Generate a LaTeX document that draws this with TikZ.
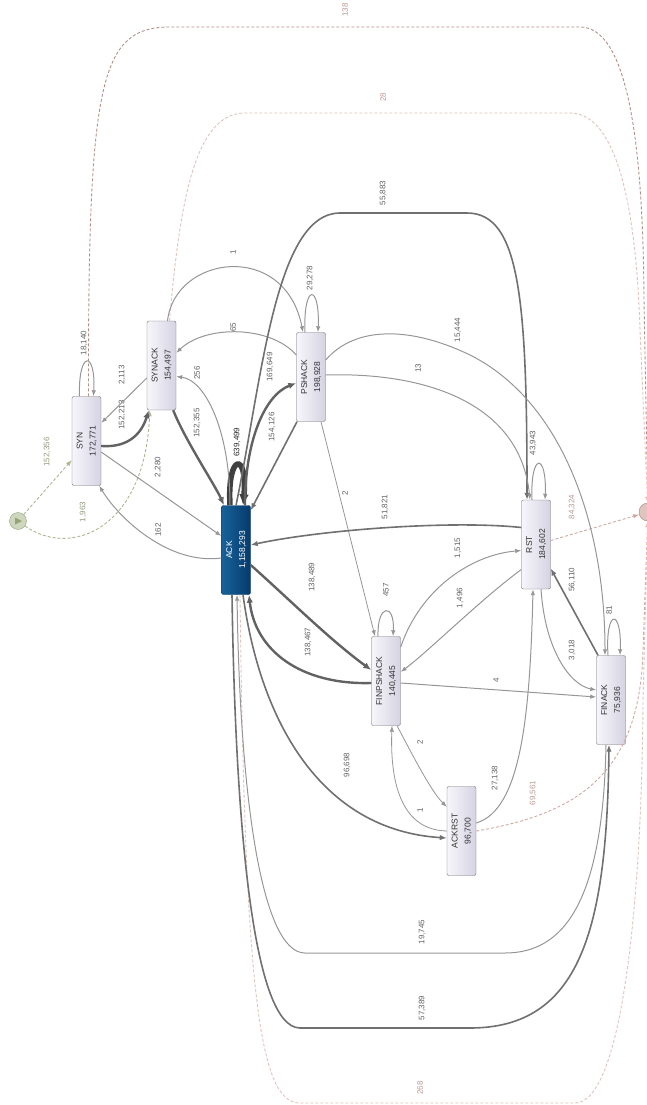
\documentclass[tikz,border=0pt]{standalone}
\usepackage{fontspec}
\setmainfont{Liberation Sans}
\usetikzlibrary{arrows.meta,shapes}
\definecolor{boxline}{RGB}{110,110,118}
\definecolor{boxlight}{RGB}{247,246,251}
\definecolor{boxdark}{RGB}{214,211,226}
\definecolor{ackleft}{RGB}{24,98,154}
\definecolor{ackright}{RGB}{6,58,108}
\definecolor{heavygrey}{RGB}{98,98,98}
\definecolor{midgrey}{RGB}{112,112,112}
\definecolor{lightgrey}{RGB}{150,150,150}
\definecolor{startfill}{RGB}{206,215,190}
\definecolor{startline}{RGB}{148,163,122}
\definecolor{startdash}{RGB}{170,183,145}
\definecolor{endfill}{RGB}{224,196,190}
\definecolor{endline}{RGB}{172,128,122}
\definecolor{enddash}{RGB}{208,170,162}
\newcommand{\actbox}[2]{\rotatebox{90}{\begin{tabular}{@{}c@{}}#1\\#2\end{tabular}}}
\tikzset{
	activity/.style={draw=boxline, rounded corners=2pt, minimum width=29pt, minimum height=89pt, inner sep=0pt,
		left color=boxlight, right color=boxdark, text=black!80, font=\fontsize{8.5}{13}\selectfont},
	hot/.style={activity, left color=ackleft, right color=ackright, draw=ackright, text=white},
	lbl/.style={rotate=90, inner sep=0pt, text=black!62, font=\fontsize{8}{9}\selectfont},
	startlbl/.style={lbl, text=startdash!85!black},
	endlbl/.style={lbl, text=enddash!90!black}
}
\begin{document}
\begin{tikzpicture}[x=1pt, y=-1pt,
	minorflow/.style={draw=lightgrey, line width=1pt, -{Latex[length=6pt,width=4.5pt]}},
	midflow/.style={draw=midgrey, line width=1.6pt, -{Latex[length=7pt,width=5.5pt]}},
	majorflow/.style={draw=heavygrey, line width=2.4pt, -{Latex[length=8pt,width=6.5pt]}},
	loopflow/.style={draw=black!75, line width=5.5pt, -{Latex[length=11pt,width=10pt]}},
	startflow/.style={draw=startdash, line width=0.9pt, dash pattern=on 3pt off 2pt, -{Latex[length=6pt,width=4.5pt]}},
	endflow/.style={draw=enddash, line width=0.9pt, dash pattern=on 3pt off 2pt, -{Latex[length=6pt,width=4.5pt]}}
	]
	\useasboundingbox (0,0) rectangle (647,1105);

	% start and end
	\node[circle, draw=startline, fill=startfill, minimum size=17pt, inner sep=0pt,
		path picture={\fill[startline] ([xshift=-3pt,yshift=3.5pt]path picture bounding box.center) -- ++(7pt,-3.5pt) -- ++(-7pt,-3.5pt) -- cycle;}] (start) at (18,521) {};
	\node[circle, draw=endline, fill=endfill, minimum size=18pt, inner sep=0pt] (end) at (648,512) {};

	% activities
	\node[activity] (SYN) at (86.5,441) {\actbox{SYN}{172,771}};
	\node[activity] (SYNACK) at (161.5,365.5) {\actbox{SYNACK}{154,497}};
	\node[activity] (PSHACK) at (311,377) {\actbox{PSHACK}{198,928}};
	\node[hot] (ACK) at (236,550) {\actbox{ACK}{1,158,293}};
	\node[activity] (FINPSHACK) at (386,681) {\actbox{FINPSHACK}{140,445}};
	\node[activity] (ACKRST) at (461.5,831) {\actbox{ACKRST}{96,700}};
	\node[activity] (RST) at (536,544.5) {\actbox{RST}{184,602}};
	\node[activity] (FINACK) at (611,700) {\actbox{FINACK}{75,936}};

	% start flows
	\draw[startflow] (start) -- ([yshift=-19pt]SYN.west) node[startlbl] at (47,452) {152,356};
	\draw[startflow] (start) .. controls (70,558) and (145,530) .. ([xshift=3pt]SYNACK.south west) node[startlbl] at (83,512) {1,963};

	% end flows
	\draw[endflow, draw=enddash!85!black] ([xshift=2pt]SYN.north) .. controls (88,80) and (100,27) .. (170,27) -- (580,27) .. controls (625,27) and (643,130) .. (644,300) -- (end) node[endlbl] at (345,10) {138};
	\draw[endflow, draw=enddash!70] ([xshift=8pt]SYNACK.north) .. controls (180,200) and (195,113) .. (245,113) -- (570,113) .. controls (615,113) and (636,200) .. (640,330) -- (end) node[endlbl] at (383,97) {28};
	\draw[endflow] ([yshift=4pt]RST.east) -- (end) node[endlbl] at (572,507) {84,324};
	\draw[endflow] (ACKRST.east) .. controls (570,815) and (640,780) .. (643,650) -- (end) node[endlbl] at (533,793) {69,561};
	\draw[endflow, draw=enddash!70] ([xshift=4pt]ACK.south) .. controls (245,1000) and (260,1103) .. (300,1103) -- (575,1103) .. controls (622,1103) and (642,900) .. (643,700) -- (end) node[endlbl] at (420,1088) {268};

	% loops
	\draw[minorflow] ([xshift=-7pt]SYN.north) .. controls (78,350) and (96,350) .. ([xshift=7pt]SYN.north) node[lbl] at (84,343) {18,140};
	\draw[loopflow] ([xshift=-6pt]ACK.north) .. controls (227,452) and (248,452) .. ([xshift=7pt]ACK.north) node[lbl, text=black!85] at (237,442) {639,499};
	\draw[minorflow] ([xshift=-6pt]PSHACK.north) .. controls (303,283) and (320,283) .. ([xshift=7pt]PSHACK.north) node[lbl] at (310,278) {29,278};
	\draw[minorflow] ([xshift=-8pt]FINPSHACK.north) .. controls (377,603) and (395,603) .. ([xshift=7pt]FINPSHACK.north) node[lbl] at (386,590) {457};
	\draw[minorflow] ([xshift=-4pt]RST.north) .. controls (530,452) and (547,452) .. ([xshift=9pt]RST.north) node[lbl] at (533,443) {43,943};
	\draw[minorflow] ([xshift=-3pt]FINACK.north) .. controls (605,608) and (622,608) .. ([xshift=9pt]FINACK.north) node[lbl] at (609,610) {81};

	% SYN and SYNACK
	\draw[majorflow] ([yshift=-5pt]SYN.east) .. controls (130,448) and (142,432) .. ([xshift=2pt]SYNACK.south west) node[lbl] at (122,415) {152,213};
	\draw[minorflow] ([yshift=-12.5pt]SYNACK.west) -- ([yshift=18pt]SYN.east) node[lbl] at (122,375) {2,113};
	\draw[minorflow] ([yshift=-11pt]SYN.east) -- ([yshift=14pt]ACK.west) node[lbl] at (158,467) {2,280};
	\draw[minorflow] ([yshift=-8pt]ACK.west) .. controls (170,565) and (120,520) .. ([xshift=-2pt]SYN.south east) node[lbl] at (158,530) {162};
	\draw[majorflow] ([xshift=-3pt]SYNACK.south east) .. controls (185,440) and (215,485) .. ([xshift=-12pt]ACK.north) node[lbl] at (197,423) {152,355};
	\draw[minorflow] ([xshift=-6pt]ACK.north) .. controls (230,430) and (205,380) .. ([yshift=-11pt]SYNACK.east) node[lbl] at (197,373) {256};
	\draw[minorflow] ([yshift=22pt]PSHACK.west) .. controls (270,325) and (205,325) .. ([yshift=12.5pt]SYNACK.east) node[lbl] at (233,327) {65};
	\draw[minorflow] ([xshift=6pt]SYNACK.north) .. controls (175,255) and (285,240) .. ([xshift=-8pt]PSHACK.north) node[lbl] at (233,252) {1};

	% ACK and PSHACK
	\draw[majorflow] ([xshift=9pt]ACK.north) .. controls (245,440) and (265,395) .. ([yshift=-6pt]PSHACK.west) node[lbl] at (270,367) {169,649};
	\draw[midflow] ([xshift=-14pt]PSHACK.south) -- ([yshift=-5pt]ACK.north east) node[lbl] at (272,427) {154,126};
	\draw[midflow] (ACK.north) .. controls (262,380) and (275,213) .. (340,213) -- (467,213) .. controls (520,213) and (527,300) .. ([xshift=-9pt]RST.north) node[lbl] at (383,193) {55,883};
	\draw[minorflow] ([yshift=2pt]PSHACK.east) .. controls (420,372) and (520,400) .. ([xshift=-6pt]RST.north) node[lbl] at (418,368) {13};
	\draw[minorflow] ([yshift=17pt]PSHACK.east) .. controls (355,326) and (410,326) .. (470,355) .. controls (560,400) and (605,520) .. ([xshift=-6pt]FINACK.north) node[lbl] at (458,330) {15,444};
	\draw[minorflow, line width=0.8pt] ([xshift=10pt]PSHACK.south) -- ([xshift=-11pt]FINPSHACK.north) node[lbl] at (345,493) {2};

	% ACK, FINPSHACK and RST
	\draw[midflow] ([yshift=17pt]RST.west) .. controls (450,520) and (320,530) .. ([yshift=5pt]ACK.east) node[lbl] at (385,507) {51,821};
	\draw[majorflow] ([yshift=-15pt]ACK.east) .. controls (290,600) and (330,640) .. ([yshift=11pt]FINPSHACK.west) node[lbl] at (312,577) {138,489};
	\draw[majorflow] ([yshift=-2pt]FINPSHACK.west) .. controls (300,685) and (255,650) .. ([xshift=13pt]ACK.south) node[lbl] at (308,642) {138,467};
	\draw[minorflow] ([yshift=34pt]FINPSHACK.east) .. controls (420,590) and (470,555) .. ([yshift=-6pt]RST.west) node[lbl] at (458,548) {1,515};
	\draw[minorflow] ([yshift=-25pt]RST.west) .. controls (480,600) and (430,650) .. ([yshift=9pt]FINPSHACK.east) node[lbl] at (460,598) {1,496};
	\draw[minorflow] ([yshift=-2pt]FINPSHACK.east) -- ([yshift=3pt]FINACK.west) node[lbl] at (496,680) {4};

	% ACKRST
	\draw[minorflow, line width=0.8pt] ([xshift=11pt]FINPSHACK.south) .. controls (410,750) and (430,790) .. ([yshift=24pt]ACKRST.west) node[lbl] at (420,742) {2};
	\draw[minorflow, line width=0.8pt] (ACKRST.west) .. controls (400,830) and (390,780) .. ([xshift=6pt]FINPSHACK.south) node[lbl] at (420,810) {1};
	\draw[midflow] ([xshift=7pt]ACK.south) .. controls (260,720) and (320,830) .. ([yshift=-7pt]ACKRST.west) node[lbl] at (347,765) {96,698};
	\draw[minorflow] ([yshift=8pt]ACKRST.east) .. controls (520,810) and (530,720) .. ([xshift=-3pt]RST.south) node[lbl] at (495,778) {27,138};

	% RST and FINACK
	\draw[minorflow] ([xshift=5pt]RST.south) .. controls (545,650) and (570,685) .. ([yshift=10pt]FINACK.west) node[lbl] at (572,650) {3,018};
	\draw[midflow] ([xshift=-13pt]FINACK.north) -- ([yshift=-24pt]RST.east) node[lbl] at (572,580) {56,110};
	\draw[midflow] ([xshift=-4pt]ACK.south) .. controls (235,800) and (250,1028) .. (300,1028) -- (470,1028) .. controls (580,1028) and (607,930) .. ([xshift=-2pt]FINACK.south) node[lbl] at (422,1008) {57,389};
	\draw[minorflow] ([xshift=-5pt]FINACK.south) .. controls (603,900) and (565,953) .. (505,953) -- (305,953) .. controls (262,953) and (240,800) .. ([xshift=1pt]ACK.south) node[lbl] at (422,932) {19,745};
\end{tikzpicture}
\end{document}
